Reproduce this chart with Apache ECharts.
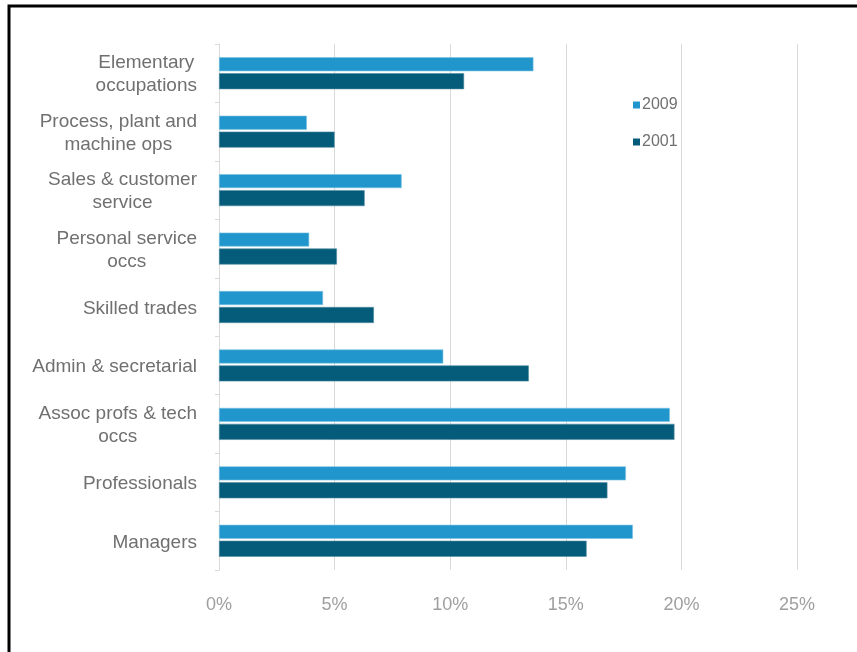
<!DOCTYPE html>
<html>
<head>
<meta charset="utf-8">
<script src="https://cdn.jsdelivr.net/npm/echarts@6/dist/echarts.min.js"></script>
<style>
html,body{margin:0;padding:0;background:#fff;}
#chart{width:857px;height:652px;}
</style>
</head>
<body>
<div id="chart"></div>
<script>
const categories = [
  "Elementary\noccupations",
  "Process, plant and\nmachine ops",
  "Sales & customer\nservice",
  "Personal service\noccs",
  "Skilled trades",
  "Admin & secretarial",
  "Assoc profs & tech\noccs",
  "Professionals",
  "Managers"
];
const values2009 = [13.6, 3.8, 7.9, 3.9, 4.5, 9.7, 19.5, 17.6, 17.9];
const values2001 = [10.6, 5.0, 6.3, 5.1, 6.7, 13.4, 19.7, 16.8, 15.9];
const xTicks = [0, 5, 10, 15, 20, 25];

const chart = echarts.init(document.getElementById('chart'), null, {renderer: 'canvas'});
const labelFont = 'Liberation Sans, Arial, sans-serif';
chart.setOption({
  backgroundColor: '#ffffff',
  animation: false,
  graphic: [{
    type: 'rect',
    shape: {x: 9, y: 6, width: 900, height: 700},
    style: {fill: 'none', stroke: '#000', lineWidth: 3},
    silent: true
  }],
  legend: {
    orient: 'vertical',
    left: 628,
    top: 92,
    itemWidth: 7,
    itemHeight: 7,
    itemGap: 21,
    icon: 'rect',
    itemStyle: {borderWidth: 0},
    textStyle: {color: '#707070', fontSize: 16, fontFamily: labelFont, padding: [0, 0, 0, -3]},
    data: ['2009', '2001']
  },
  grid: {left: 219, right: 60, top: 44, bottom: 82, containLabel: false},
  xAxis: {
    type: 'value',
    min: xTicks[0],
    max: xTicks[xTicks.length - 1],
    interval: 5,
    axisLine: {show: false},
    axisTick: {show: false},
    splitLine: {show: true, lineStyle: {color: '#d9d9d9', width: 1}},
    axisLabel: {
      formatter: v => v + '%',
      color: '#9f9f9f',
      fontSize: 18,
      fontFamily: labelFont,
      margin: 26
    }
  },
  yAxis: {
    type: 'category',
    inverse: true,
    data: categories,
    axisLine: {show: true, lineStyle: {color: '#d9d9d9', width: 1}},
    axisTick: {show: true, length: 4, lineStyle: {color: '#d9d9d9'}},
    axisLabel: {
      align: 'right',
      margin: 22,
      padding: [3, 0, 0, 0],
      formatter: function (v) {
        return v.split('\n').map(l => '{c|' + l + '}').join('\n');
      },
      rich: {
        c: {align: 'center', fontSize: 19, fontFamily: labelFont, color: '#707070', lineHeight: 23}
      }
    }
  },
  series: [
    {
      name: '2009',
      type: 'bar',
      data: values2009,
      barWidth: 14,
      barGap: '14%',
      itemStyle: {color: '#2196cc', borderColor: '#7cc3e3', borderWidth: 0.6}
    },
    {
      name: '2001',
      type: 'bar',
      data: values2001,
      barWidth: 16,
      barGap: '14%',
      itemStyle: {color: '#045c7a', borderColor: '#4f8ca1', borderWidth: 0.6}
    }
  ]
});
</script>
</body>
</html>
